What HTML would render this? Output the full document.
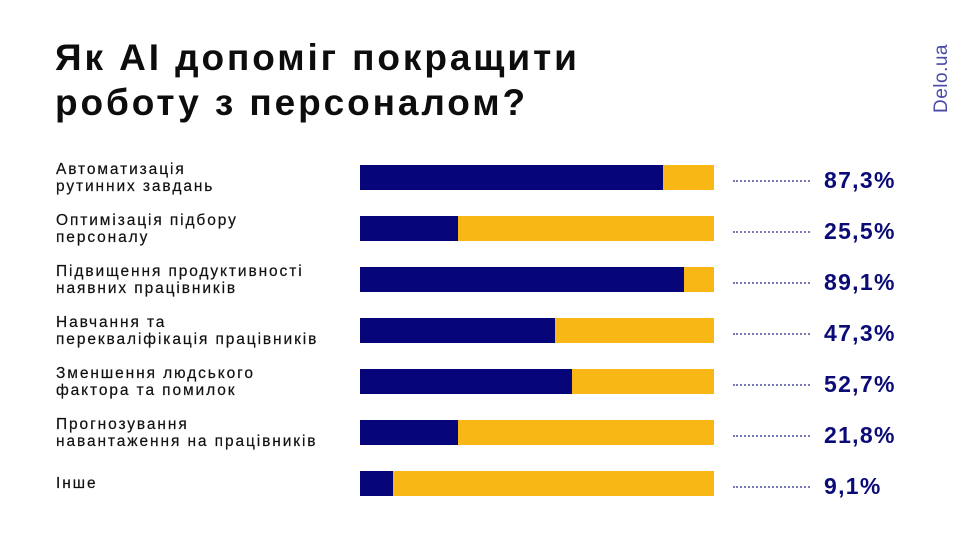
<!DOCTYPE html>
<html><head><meta charset="utf-8"><style>
body{margin:0;width:980px;height:560px;background:#fff;position:relative;overflow:hidden;font-family:"Liberation Sans",sans-serif;color:#111}
.t{position:absolute;left:55px;top:35px;font-size:37px;line-height:45px;font-weight:bold;color:#0d0d0d;letter-spacing:2.9px;white-space:nowrap}
.d{position:absolute;left:931px;top:113px;transform-origin:0 0;transform:rotate(-90deg);color:#4a4aa8;font-size:19px;white-space:nowrap;letter-spacing:0.5px}
.l{position:absolute;left:56px;font-size:15.5px;line-height:17px;color:#111;letter-spacing:1.9px;-webkit-text-stroke:0.2px #111;white-space:nowrap}
.b{position:absolute;left:360px;width:354px;height:25px;background:#f9b716}
.b i{display:block;height:100%;background:#06067a}
.o{position:absolute;left:733px;width:77px;border-top:2px dotted #7a7ab8}
.v{position:absolute;left:824px;font-size:23px;font-weight:bold;color:#0b0b78;line-height:26px;letter-spacing:1.3px}
</style></head><body>
<div class="t">Як АІ допоміг покращити<br>роботу з персоналом?</div>
<div class="d">Delo.ua</div>

<div class="l" style="top:161px">Автоматизація<br>рутинних завдань</div>
<div class="b" style="top:165px"><i style="width:303px"></i></div>
<div class="o" style="top:180px"></div><div class="v" style="top:167px">87,3%</div>

<div class="l" style="top:212px">Оптимізація підбору<br>персоналу</div>
<div class="b" style="top:216px"><i style="width:98px"></i></div>
<div class="o" style="top:231px"></div><div class="v" style="top:218px">25,5%</div>

<div class="l" style="top:263px">Підвищення продуктивності<br>наявних працівників</div>
<div class="b" style="top:267px"><i style="width:324px"></i></div>
<div class="o" style="top:282px"></div><div class="v" style="top:269px">89,1%</div>

<div class="l" style="top:314px">Навчання та<br>перекваліфікація працівників</div>
<div class="b" style="top:318px"><i style="width:195px"></i></div>
<div class="o" style="top:333px"></div><div class="v" style="top:320px">47,3%</div>

<div class="l" style="top:365px">Зменшення людського<br>фактора та помилок</div>
<div class="b" style="top:369px"><i style="width:212px"></i></div>
<div class="o" style="top:384px"></div><div class="v" style="top:371px">52,7%</div>

<div class="l" style="top:416px">Прогнозування<br>навантаження на працівників</div>
<div class="b" style="top:420px"><i style="width:98px"></i></div>
<div class="o" style="top:435px"></div><div class="v" style="top:422px">21,8%</div>

<div class="l" style="top:475px">Інше</div>
<div class="b" style="top:471px"><i style="width:33px"></i></div>
<div class="o" style="top:486px"></div><div class="v" style="top:473px">9,1%</div>
</body></html>
